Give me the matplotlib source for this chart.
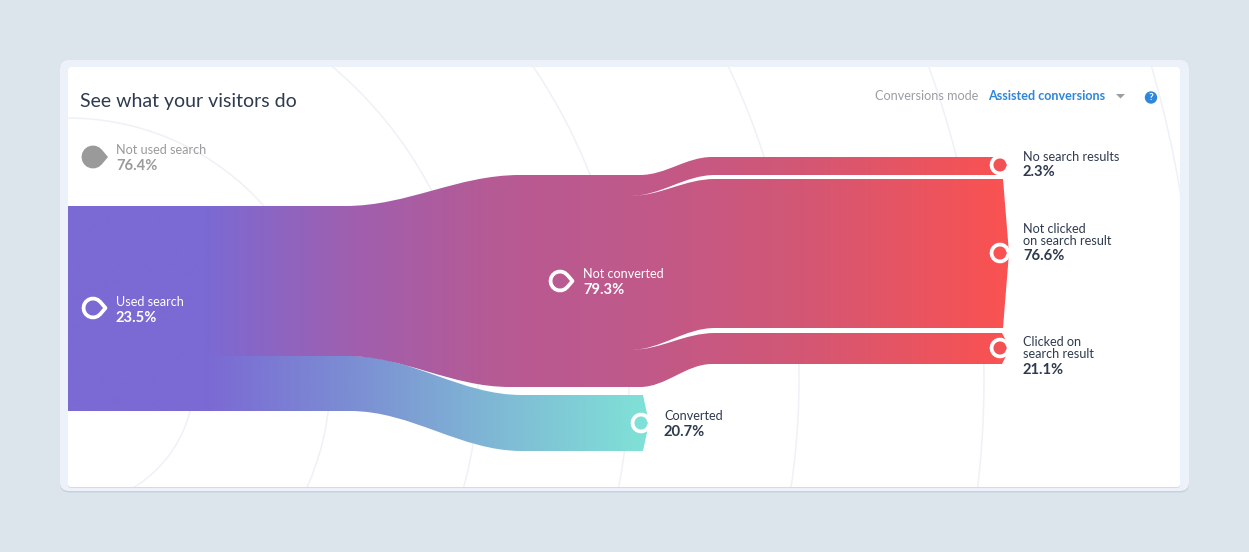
import numpy as np
import matplotlib
matplotlib.use("Agg")
import matplotlib.pyplot as plt
from matplotlib.path import Path
from matplotlib.patches import PathPatch, FancyBboxPatch, Rectangle, Circle, Polygon
from matplotlib.colors import LinearSegmentedColormap

plt.rcParams['font.family'] = ['Lato', 'Open Sans', 'DejaVu Sans']

# ---- data
title = "See what your visitors do"
mode_label = "Conversions mode"
mode_value = "Assisted conversions"
node_labels = ["Not used search", "Used search", "Not converted", "Converted",
               "No search results", "Not clicked\non search result", "Clicked on\nsearch result"]
node_values = [76.4, 23.5, 79.3, 20.7, 2.3, 76.6, 21.1]
# label anchor (x, y of first line centre) and marker centre, in chart pixels
node_x = [93, 93, 560, 641, 1000, 1000, 1000]
node_y = [157, 308, 281, 423, 165, 253, 348]
label_x = [116, 116, 583, 664, 1023, 1023, 1023]
label_y = [150, 302, 274, 416, 157, 229, 342]
# band outlines (top / bottom edge levels along the flow)
x_stage = [68, 210, 345, 520, 640, 712, 1003]
main_top = [206, 175, 157]
main_bot = [356, 387, 364]
conv_top = [356, 395]
conv_bot = [411, 451]
gap_top = [175, 179]
gap_bot = [328, 333]
arc_radii = [126, 262, 410, 561, 731, 916, 1128]

W, H = 1249, 552
fig = plt.figure(figsize=(W / 100, H / 100), dpi=100, facecolor="#DDE5EC")
ax = fig.add_axes([0, 0, 1, 1])
ax.set_xlim(0, W)
ax.set_ylim(H, 0)
ax.axis("off")

# card
ax.add_patch(FancyBboxPatch((60, 61), 1129, 431.5, boxstyle="round,pad=0,rounding_size=9",
                            fc="#C9D0DB", ec="none", zorder=1))
ax.add_patch(FancyBboxPatch((60, 60), 1129, 431, boxstyle="round,pad=0,rounding_size=9",
                            fc="#EDF1F9", ec="none", zorder=1.1))
ax.add_patch(FancyBboxPatch((68, 67), 1112, 421, boxstyle="round,pad=0,rounding_size=3",
                            fc="#D6DAE5", ec="none", zorder=1.2))
inner = FancyBboxPatch((68, 67), 1112, 420, boxstyle="round,pad=0,rounding_size=3",
                       fc="white", ec="none", zorder=1.3)
ax.add_patch(inner)

# background arcs
for r in arc_radii:
    c = Circle((68, 380), r, fc="none", ec="#EFF1F6", lw=1.1, zorder=1.5)
    ax.add_patch(c)
    c.set_clip_path(inner)

M, L, C, Z = Path.MOVETO, Path.LINETO, Path.CURVE4, Path.CLOSEPOLY


def ease(p0, p1, k=0.36):
    dx = p1[0] - p0[0]
    return [(p0[0] + k * dx, p0[1]), (p1[0] - k * dx, p1[1]), p1], [C, C, C]


def build(points):
    verts, codes = [points[0]], [M]
    for kind, pt in points[1:]:
        if kind == "l":
            verts.append(pt); codes.append(L)
        else:
            v, c = ease(verts[-1], pt)
            verts += v; codes += c
    verts.append(verts[0]); codes.append(Z)
    return Path(verts, codes)


def gradient_fill(path, stops, z):
    xs = np.linspace(0, 1, 1200)
    cmap = LinearSegmentedColormap.from_list("g", stops, N=512)
    im = ax.imshow(xs[None, :], extent=(0, W, H, 0), cmap=cmap, aspect="auto",
                   vmin=0, vmax=1, zorder=z, interpolation="bilinear")
    patch = PathPatch(path, transform=ax.transData, fc="none", ec="none")
    ax.add_patch(patch)
    im.set_clip_path(patch)


x0, x1, x2, x3, x4, x5, x6 = x_stage

# converted band
conv = build([(x1, conv_top[0]), ("l", (x2 + 5, conv_top[0])), ("c", (x3 + 2, conv_top[1])),
              ("l", (643, conv_top[1])), ("l", (649, 423)), ("l", (643, conv_bot[1])),
              ("l", (x3 + 2, conv_bot[1])), ("c", (x2 + 5, conv_bot[0])), ("l", (x1, conv_bot[0]))])
gradient_fill(conv, [(0, "#7B6AD3"), (210 / W, "#7B6AD3"), (360 / W, "#7C90D3"),
                     (500 / W, "#7FBAD5"), (640 / W, "#7FE0D7"), (1, "#7FE0D7")], 3)

# main band
main = build([(x0, 206), ("l", (x2, 206)), ("c", (x3, main_top[1])), ("l", (x4, main_top[1])),
              ("c", (x5, main_top[2])), ("l", (998, main_top[2])), ("l", (1009, 165)),
              ("l", (998, gap_top[0])), ("l", (1003, gap_top[1])), ("l", (1009, 253)),
              ("l", (1003, gap_bot[0])), ("l", (1002, gap_bot[1])), ("l", (1010, 348)),
              ("l", (1002, main_bot[2])), ("l", (x5, main_bot[2])), ("c", (x4, main_bot[1])),
              ("l", (x3 - 10, main_bot[1])), ("c", (x2, main_bot[0])), ("l", (x1, main_bot[0])),
              ("l", (x1, 411)), ("l", (x0, 411))])
gradient_fill(main, [(0, "#7B6AD3"), (205 / W, "#7B6AD3"), (355 / W, "#A05FAE"),
                     (500 / W, "#B75A93"), (640 / W, "#C0598A"), (800 / W, "#D25775"),
                     (1000 / W, "#F95252"), (1, "#F95252")], 4)

# white slits between the right-hand branches
for (tip_y, g0, g1) in [(196, gap_top[0], gap_top[1]), (350, gap_bot[0], gap_bot[1])]:
    slit = build([(630, tip_y), ("c", (x5 + 3, g0)), ("l", (1012, g0)), ("l", (1012, g1)),
                  ("l", (x5 + 3, g1)), ("c", (630, tip_y))])
    ax.add_patch(PathPatch(slit, fc="white", ec="none", zorder=5))


def drop(cx, cy, r, tip):
    a = np.deg2rad(40)
    ex, ey = cx + r * np.cos(a), r * np.sin(a)
    verts = [(cx + tip, cy), (ex, cy - ey)]
    codes = [M, L]
    angs = np.deg2rad(np.arange(-40, -321, -20))
    for t in angs:
        verts.append((cx + r * np.cos(t), cy + r * np.sin(t)))
        codes.append(L)
    verts += [(ex, cy + ey), (cx + tip, cy)]
    codes += [L, Z]
    return Path(verts, codes)


marker_fill = ["#9A9A9A", "#7B6AD3", "#B95B90", "#7FE0D7", "#F25253", "#F85252", "#F25253"]
for i in range(len(node_x)):
    if i == 0:
        ax.add_patch(PathPatch(drop(node_x[i], node_y[i], 11.5, 15), fc=marker_fill[i], ec="none", zorder=7))
    else:
        r, tip = (9.5, 12.5) if i < 3 else (8.5, 9)
        ax.add_patch(PathPatch(drop(node_x[i], node_y[i], r, tip), fc=marker_fill[i], ec="white",
                               lw=2.7, joinstyle="round", zorder=7))

# labels
name_col = ["#9A9A9A", "white", "white", "#2E3A4E", "#2E3A4E", "#2E3A4E", "#2E3A4E"]
for i, lab in enumerate(node_labels):
    lines = lab.split("\n")
    for j, ln in enumerate(lines):
        ax.text(label_x[i], label_y[i] + j * 12, ln, fontsize=9.05, color=name_col[i],
                va="center", ha="left", zorder=8)
    ax.text(label_x[i], label_y[i] + len(lines) * 12 + 3.5, f"{node_values[i]}%", fontsize=10.6,
            fontweight="bold", color=name_col[i], va="center", ha="left", zorder=8)

# header
ax.text(80, 101.5, title, fontsize=14, color="#2E3A4E", va="center", ha="left", zorder=8)
ax.text(875, 96, mode_label, fontsize=9.1, color="#9A9EA4", va="center", ha="left", zorder=8)
ax.text(988.5, 96, mode_value, fontsize=9.05, fontweight="bold", color="#2F86DB", va="center", ha="left", zorder=8)
ax.add_patch(Polygon([(1116, 94), (1125, 94), (1120.5, 98.5)], fc="#9A9EA4", ec="none", zorder=8))
ax.add_patch(Circle((1151, 97.5), 6.2, fc="#2F86DB", ec="none", zorder=8))
ax.text(1151, 97.8, "?", fontsize=7.5, fontweight="bold", color="white", va="center", ha="center", zorder=9)

fig.savefig("out.png", dpi=100, facecolor=fig.get_facecolor())
